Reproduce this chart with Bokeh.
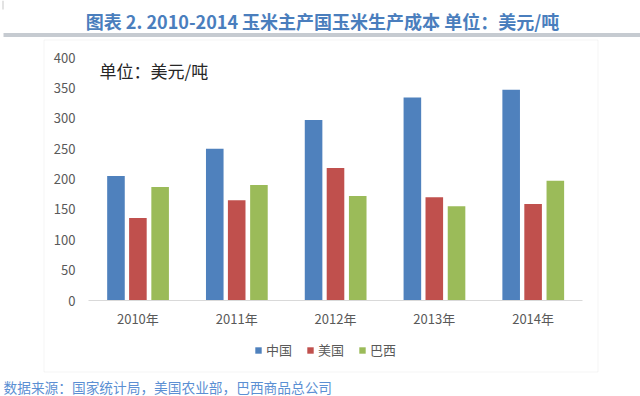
from bokeh.plotting import figure
from bokeh.models import (Range1d, FixedTicker, Label, BoxAnnotation, Legend, LegendItem,
                          LinearAxis, ColumnDataSource)
from bokeh.embed import file_html
from bokeh.resources import INLINE

years = ["2010年", "2011年", "2012年", "2013年", "2014年"]
china = [205, 250, 297, 334, 347]
usa = [136, 165, 218, 170, 159]
brazil = [187, 190, 172, 155, 197]
series_names = ["中国", "美国", "巴西"]
y_ticks = [0, 50, 100, 150, 200, 250, 300, 350, 400]
title_text = "图表 2. 2010-2014  玉米主产国玉米生产成本 单位：美元/吨"
unit_text = "单位：美元/吨"
source_text = "数据来源：国家统计局，美国农业部，巴西商品总公司"

FONT = "Noto Sans CJK SC"
colors = ["#4f81bd", "#c0504d", "#9bbb59"]
W, H = 640, 396

p = figure(width=W, height=H, x_range=Range1d(-0.8907, 5.587), y_range=Range1d(-158.02, 493.83),
           output_backend="svg", toolbar_location=None, x_axis_type=None, y_axis_type=None,
           min_border=0)
p.outline_line_color = None
p.xgrid.grid_line_color = None
p.ygrid.grid_line_color = None

centers = [i + 0.5 for i in range(len(years))]
offsets = [-0.222, 0.0, 0.225]
renderers = []
for vals, off, c in zip([china, usa, brazil], offsets, colors):
    src = ColumnDataSource(dict(x=[cx + off for cx in centers], top=vals))
    r = p.vbar(x="x", top="top", width=0.178, source=src, fill_color=c, line_color=None)
    renderers.append(r)

yaxis = LinearAxis(fixed_location=0, ticker=FixedTicker(ticks=y_ticks))
yaxis.axis_line_color = None
yaxis.major_tick_line_color = None
yaxis.minor_tick_line_color = None
yaxis.major_tick_out = 0
yaxis.major_tick_in = 0
yaxis.major_label_standoff = 13
yaxis.major_label_text_font = FONT
yaxis.major_label_text_font_size = "13px"
yaxis.major_label_text_color = "#595959"
p.add_layout(yaxis, "left")

xaxis = LinearAxis(fixed_location=0, ticker=FixedTicker(ticks=centers), bounds=(0, len(years)),
                   major_label_overrides={cx: y for cx, y in zip(centers, years)})
xaxis.axis_line_color = "#d9d9d9"
xaxis.major_tick_line_color = None
xaxis.minor_tick_line_color = None
xaxis.major_tick_out = 0
xaxis.major_tick_in = 0
xaxis.major_label_standoff = 8
xaxis.major_label_text_font = FONT
xaxis.major_label_text_font_size = "13px"
xaxis.major_label_text_color = "#595959"
p.add_layout(xaxis, "below")

legend = Legend(items=[LegendItem(label=n, renderers=[r]) for n, r in zip(series_names, renderers)],
                orientation="horizontal", location=(254, 37),
                glyph_width=8, glyph_height=8, label_standoff=4, spacing=14,
                label_text_font=FONT, label_text_font_size="13px", label_text_color="#595959",
                border_line_color=None, background_fill_alpha=0, padding=0, margin=0)
p.add_layout(legend)

def sbox(**kw):
    return BoxAnnotation(left_units="screen", right_units="screen", top_units="screen",
                         bottom_units="screen", **kw)

p.add_layout(sbox(left=43.5, right=597.5, top=356.5, bottom=24.5, fill_alpha=0,
                  line_color="#d9d9d9", line_width=1, level="underlay"))
for yy in [362.5, 360.5]:
    p.add_layout(sbox(left=3, right=W, top=yy + 0.5, bottom=yy - 0.5,
                      fill_color="#8e98a4", fill_alpha=1, line_color=None))
p.add_layout(sbox(left=2, right=3, top=H, bottom=H - 9, fill_color="#c8c8c8",
                  fill_alpha=1, line_color=None))

p.add_layout(Label(x=324, y=376, x_units="screen", y_units="screen", text=title_text,
                   text_align="center", text_baseline="middle", text_font=FONT,
                   text_font_style="bold", text_font_size="18px", text_color="#4a7ebd"))
p.add_layout(Label(x=99, y=326, x_units="screen", y_units="screen", text=unit_text,
                   text_align="left", text_baseline="middle", text_font=FONT,
                   text_font_size="17px", text_color="#262626"))
p.add_layout(Label(x=3, y=10, x_units="screen", y_units="screen", text=source_text,
                   text_align="left", text_baseline="middle", text_font=FONT,
                   text_font_size="13.7px", text_color="#5b8fd3"))

open("out.html", "w").write(file_html(p, INLINE))
